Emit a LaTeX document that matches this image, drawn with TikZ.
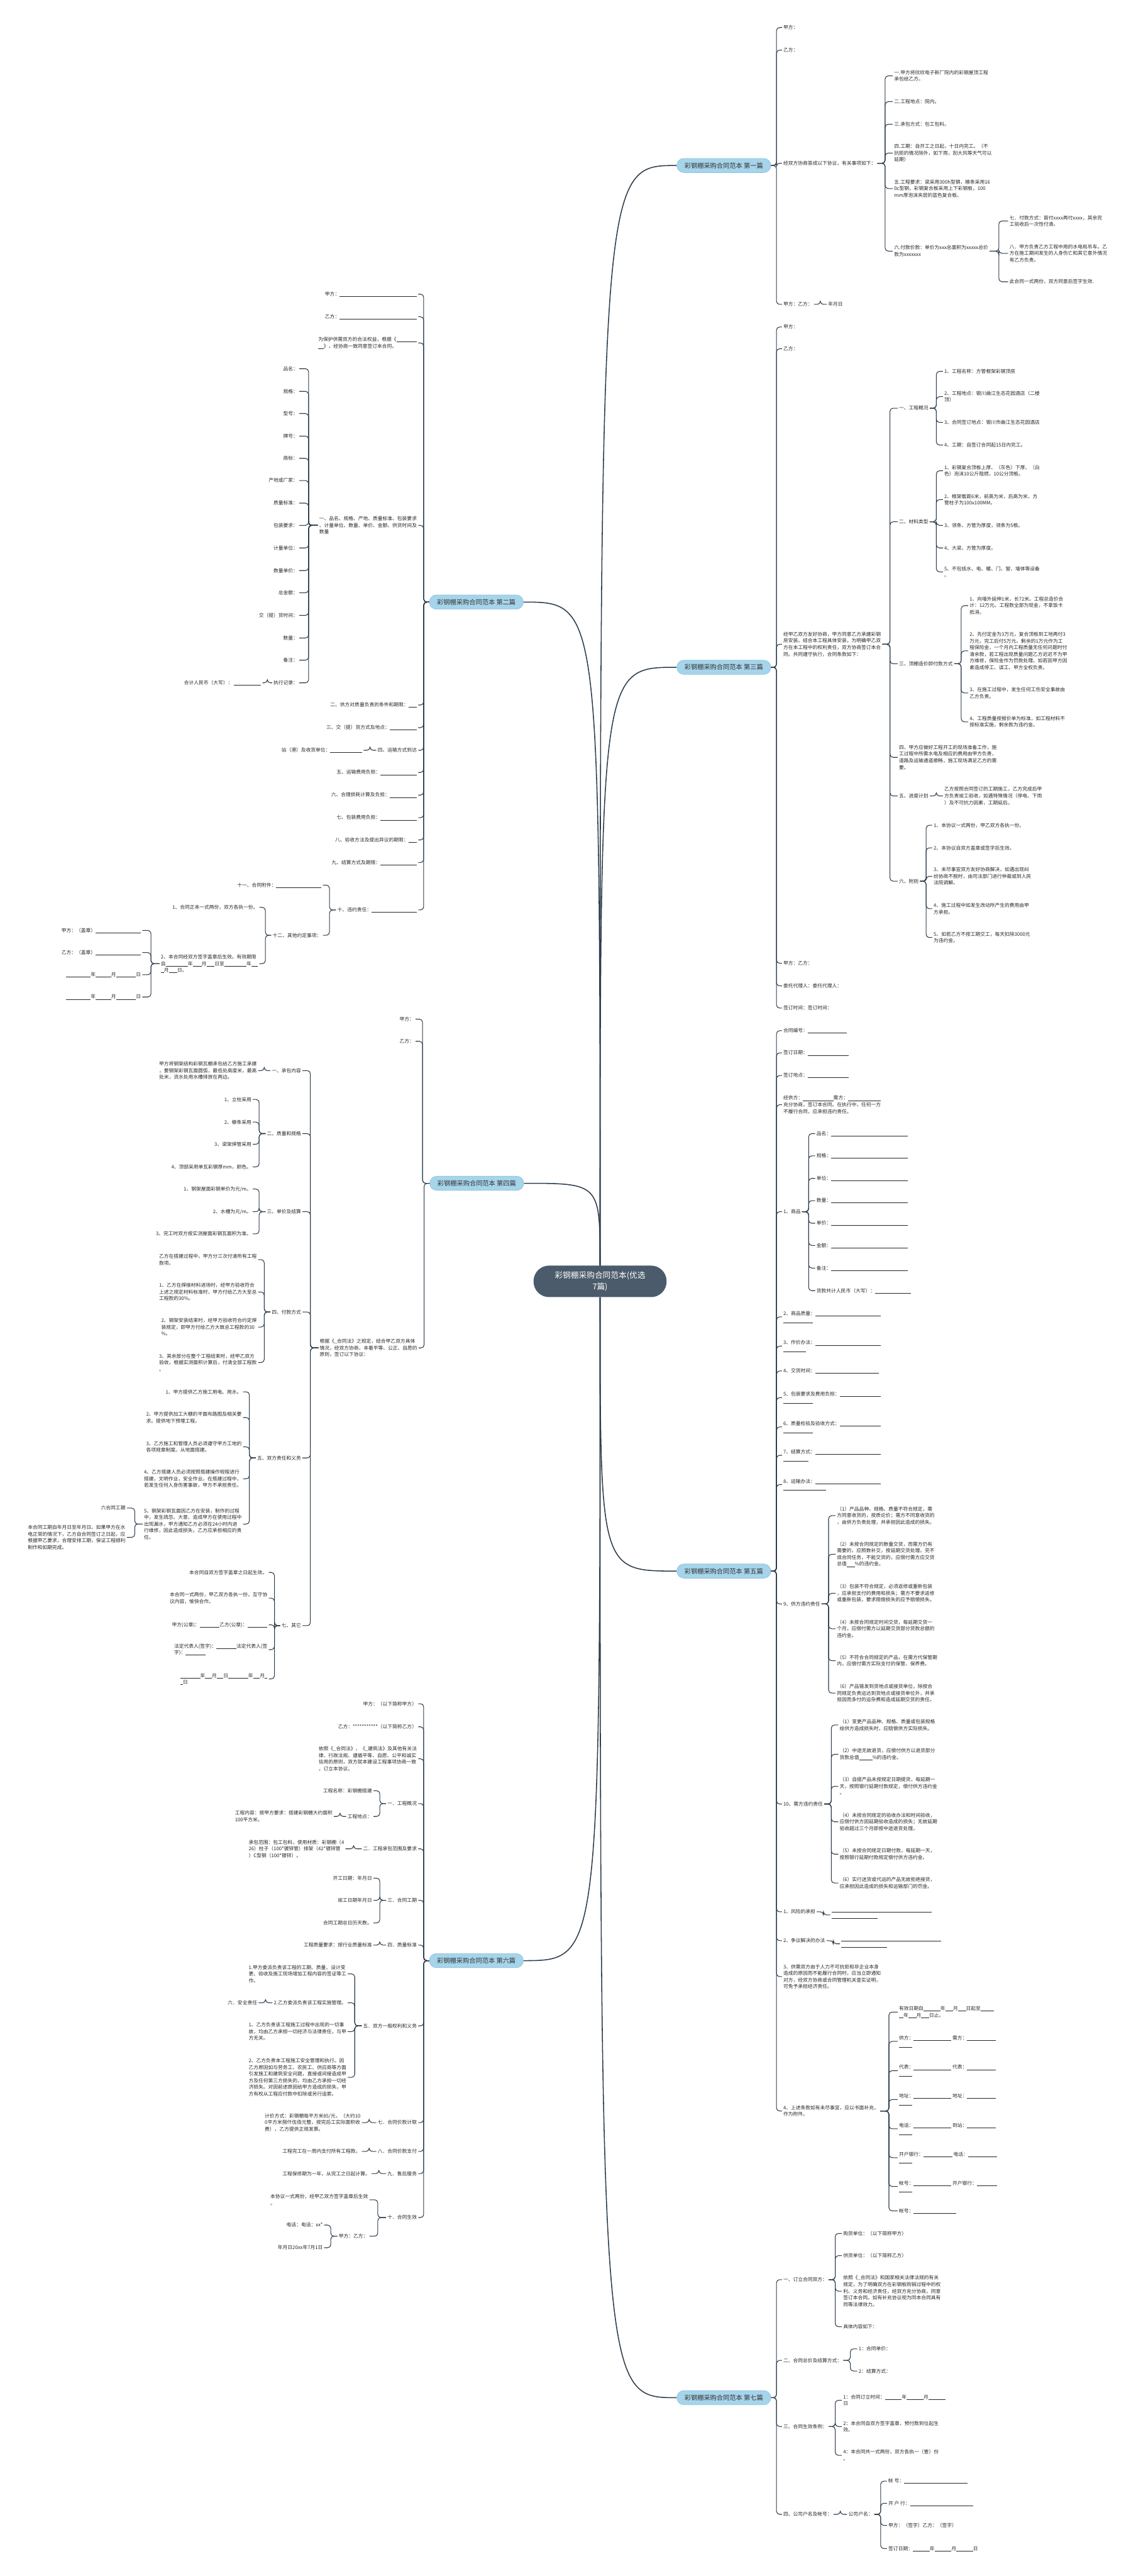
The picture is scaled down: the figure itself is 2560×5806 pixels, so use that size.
\documentclass[tikz,border=0pt]{standalone}
\usepackage{fontspec}
\setmainfont{Noto Sans CJK SC}
\usetikzlibrary{calc}
\definecolor{rootfill}{HTML}{4B5B6B}
\definecolor{topicfill}{HTML}{A6D4EA}
\definecolor{topicline}{HTML}{8CC4DE}
\definecolor{linkcol}{HTML}{2E3D4C}
\newcommand{\blankrule}[1]{\rule[-1.5pt]{#1pt}{0.6pt}}

\begin{document}
\begin{tikzpicture}[x=1pt, y=-1pt,
    root/.style={rectangle, rounded corners=35, fill=rootfill, text=white, align=center, minimum width=300, minimum height=71, inner sep=0, font=\fontsize{18}{25}\selectfont},
    topic/.style={rectangle, rounded corners=16, fill=topicfill, draw=topicline, line width=1, minimum width=212, minimum height=32, inner sep=0, text=black!80, font=\fontsize{14.5}{18}\selectfont},
    rleaf/.style={anchor=west, align=left, inner xsep=3, inner ysep=2, text=black!85, font=\fontsize{11}{15}\selectfont},
    lleaf/.style={rleaf, anchor=east},
    branch/.style={draw=linkcol, line width=1.5, rounded corners=7, to path={-- ($(\tikztostart)!0.5!(\tikztotarget |- \tikztostart)$) |- (\tikztotarget)}},
    trunk/.style={draw=linkcol, line width=2.2, to path={.. controls (\tikztostart |- \tikztotarget) .. (\tikztotarget)}},
]
\useasboundingbox (0,0) rectangle (2560,5806);
\fill[white] (0,0) rectangle (2560,5806);

% Root and topics
\node[root] (root) at (1353,2888) {彩钢棚采购合同范本(优选\\7篇)};
\node[topic] (b1) at (1632,373) {彩钢棚采购合同范本 第一篇};
\node[topic] (b2) at (1074,1357) {彩钢棚采购合同范本 第二篇};
\node[topic] (b3) at (1632,1504) {彩钢棚采购合同范本 第三篇};
\node[topic] (b4) at (1075,2667) {彩钢棚采购合同范本 第四篇};
\node[topic] (b5) at (1632,3541) {彩钢棚采购合同范本 第五篇};
\node[topic] (b6) at (1074,4419) {彩钢棚采购合同范本 第六篇};
\node[topic] (b7) at (1632,5404) {彩钢棚采购合同范本 第七篇};

% First
\node[rleaf] (n1a) at (1763,62) {甲方：};
\node[rleaf] (n1b) at (1763,113) {乙方：};
\node[rleaf] (n1c) at (1763,368) {经双方协商答成以下协议，有关事项如下：};
\node[rleaf] (n1d) at (1763,686) {甲方：乙方：};
\node[rleaf] (n1d1) at (1864,686) {年月日};
\node[rleaf] (n1c1) at (2013,171) {一.甲方将欣欣电子新厂院内的彩钢屋顶工程\\承包给乙方。};
\node[rleaf] (n1c2) at (2013,229) {二.工程地点：院内。};
\node[rleaf] (n1c3) at (2013,280) {三.承包方式：包工包料。};
\node[rleaf] (n1c4) at (2013,345) {四.工期：自开工之日起，十日内完工。（不\\抗拒的情况除外，如下雨，刮大风等天气可以\\延期）};
\node[rleaf] (n1c5) at (2013,425) {五.工程要求：梁采用300h型钢，檩条采用16\\0c型钢，彩钢复合板采用上下彩钢板，100\\mm厚泡沫夹层的蓝色复合板。};
\node[rleaf] (n1c6) at (2013,566) {六.付款价款：单价为xxx总面积为xxxxx总价\\款为xxxxxxx};
\node[rleaf] (n1c6a) at (2273,498) {七．付款方式：首付xxxx再付xxxx，其余完\\工验收后一次性付清。};
\node[rleaf] (n1c6b) at (2273,571) {八．甲方负责乙方工程中用的水电和吊车。乙\\方在施工期间发生的人身伤亡和其它意外情况\\有乙方负责。};
\node[rleaf] (n1c6c) at (2273,635) {此合同一式两份，双方同意后签字生效.};

% Second
\node[lleaf] (n2a) at (943,663) {甲方：\blankrule{174}};
\node[lleaf] (n2b) at (943,714) {乙方：\blankrule{174}};
\node[lleaf] (n2c) at (943,773) {为保护供需双方的合法权益，根据《\blankrule{46}\\\blankrule{12}》，经协商一致同意签订本合同。};
\node[lleaf] (n2d) at (943,1184) {一、品名、规格、产地、质量标准、包装要求\\、计量单位、数量、单价、金额、供货时间及\\数量};
\node[lleaf] (n2d1) at (675,831) {品名：};
\node[lleaf] (n2d2) at (675,882) {规格：};
\node[lleaf] (n2d3) at (675,932) {型号：};
\node[lleaf] (n2d4) at (675,983) {牌号：};
\node[lleaf] (n2d5) at (675,1033) {商标：};
\node[lleaf] (n2d6) at (675,1083) {产地或厂家：};
\node[lleaf] (n2d7) at (675,1134) {质量标准：};
\node[lleaf] (n2d8) at (675,1184) {包装要求：};
\node[lleaf] (n2d9) at (675,1235) {计量单位：};
\node[lleaf] (n2d10) at (675,1286) {数量单价：};
\node[lleaf] (n2d11) at (675,1336) {总金额：};
\node[lleaf] (n2d12) at (675,1387) {交（提）货时间：};
\node[lleaf] (n2d13) at (675,1438) {数量：};
\node[lleaf] (n2d14) at (675,1488) {备注：};
\node[lleaf] (n2d15) at (675,1539) {执行记录：};
\node[lleaf] (n2d15a) at (592,1539) {合计人民币（大写）：\,\blankrule{62}};
\node[lleaf] (n2e) at (943,1589) {二、供方对质量负责的条件和期限：\blankrule{19}};
\node[lleaf] (n2f) at (943,1640) {三、交（提）货方式及地点：\blankrule{61}};
\node[lleaf] (n2g) at (943,1691) {四、运输方式到达};
\node[lleaf] (n2g1) at (820,1691) {站（港）及收货单位：\blankrule{72}};
\node[lleaf] (n2h) at (943,1741) {五、运输费用负担：\blankrule{82}};
\node[lleaf] (n2i) at (943,1792) {六、合理损耗计算及负担：\blankrule{61}};
\node[lleaf] (n2j) at (943,1843) {七、包装费用负担：\blankrule{82}};
\node[lleaf] (n2k) at (943,1893) {八、验收方法及提出异议的期限：\blankrule{19}};
\node[lleaf] (n2l) at (943,1944) {九、结算方式及期限：\blankrule{82}};
\node[lleaf] (n2m) at (943,2051) {十、违约责任：\blankrule{102}};
\node[lleaf] (n2m1) at (728,1995) {十一、合同附件：\blankrule{102}};
\node[lleaf] (n2m2) at (728,2108) {十二、其他约定事项：};
\node[lleaf] (n2m2a) at (585,2045) {1、合同正本一式两份，双方各执一份。};
\node[lleaf] (n2m2b) at (585,2172) {2、本合同经双方签字盖章后生效。有效期限\\自\blankrule{50}年\blankrule{20}月\blankrule{18}日至\blankrule{50}年\blankrule{15}\\\blankrule{7}月\blankrule{19}日。};
\node[lleaf] (n2m2b1) at (321,2097) {甲方：（盖章）\blankrule{102}};
\node[lleaf] (n2m2b2) at (321,2147) {乙方：（盖章）\blankrule{102}};
\node[lleaf] (n2m2b3) at (321,2197) {\blankrule{56}年\blankrule{35}月\blankrule{45}日};
\node[lleaf] (n2m2b4) at (321,2247) {\blankrule{56}年\blankrule{35}月\blankrule{45}日};

% Third
\node[rleaf] (n3a) at (1763,737) {甲方：};
\node[rleaf] (n3b) at (1763,786) {乙方：};
\node[rleaf] (n3c) at (1763,1452) {经甲乙双方友好协商，甲方同意乙方承建彩钢\\房安装。结合本工程具体安装，为明确甲乙双\\方在本工程中的权利责任，双方协商签订本合\\同。共同遵守执行，合同条款如下：};
\node[rleaf] (n3d) at (1763,2171) {甲方：乙方：};
\node[rleaf] (n3e) at (1763,2222) {委托代理人：委托代理人：};
\node[rleaf] (n3f) at (1763,2272) {签订时间：签订时间：};
\node[rleaf] (n3c1) at (2024,920) {一、工程概况};
\node[rleaf] (n3c1a) at (2126,837) {1、工程名称：方管框架彩钢顶房};
\node[rleaf] (n3c1b) at (2126,894) {2、工程地点：银川曲江生态花园酒店（二楼\\顶）};
\node[rleaf] (n3c1c) at (2126,952) {3、合同签订地点：银川市曲江生态花园酒店};
\node[rleaf] (n3c1d) at (2126,1003) {4、工期：自签订合同起15日内完工。};
\node[rleaf] (n3c2) at (2024,1176) {二、材料类型};
\node[rleaf] (n3c2a) at (2126,1061) {1、彩钢复合顶板上厚、（灰色）下厚、（白\\色）泡沫10公斤阻燃，10公分顶板。};
\node[rleaf] (n3c2b) at (2126,1126) {2、框架载距6米，前高为米，后高为米、方\\管柱子为100x100MM。};
\node[rleaf] (n3c2c) at (2126,1184) {3、领条、方管为厚度，领条为5根。};
\node[rleaf] (n3c2d) at (2126,1235) {4、大梁、方管为厚度。};
\node[rleaf] (n3c2e) at (2126,1289) {5、不包括水、电、暖、门、窗、墙体等设备\\。};
\node[rleaf] (n3c3) at (2024,1496) {三、顶棚造价即付款方式};
\node[rleaf] (n3c3a) at (2183,1365) {1、向墙外延伸1米，长72米。工程总造价合\\计：12万元。工程款全部为现金，不拿饭卡\\抵消。};
\node[rleaf] (n3c3b) at (2183,1467) {2、先付定金为3万元，复合顶板到工地再付3\\万元，完工后付5万元。剩余的1万元作为工\\程保险金，一个月内工程质量无任何问题时付\\清余款，若工程出现质量问题乙方迟迟不为甲\\方维修，保险金作为罚款处理。如若因甲方因\\素造成停工、误工、甲方全权负责。};
\node[rleaf] (n3c3c) at (2183,1562) {3、在施工过程中，发生任何工伤安全事故由\\乙方负责。};
\node[rleaf] (n3c3d) at (2183,1627) {4、工程质量按报价单为标准，如工程材料不\\按标准实施，剩余款为违约金。};
\node[rleaf] (n3c4) at (2024,1707) {四、甲方应做好工程开工的现场准备工作，施\\工过程中所需水电及相应的费用由甲方负责，\\道路及运输通道顺畅，施工现场满足乙方的需\\要。};
\node[rleaf] (n3c5) at (2024,1794) {五、进度计划};
\node[rleaf] (n3c5a) at (2126,1794) {乙方按照合同签订的工期施工，乙方完成后甲\\方负责竣工验收，如遇特殊情况（停电、下雨\\）及不可抗力因素，工期延后。};
\node[rleaf] (n3c6) at (2024,1986) {六、附则};
\node[rleaf] (n3c6a) at (2102,1860) {1、本协议一式两份，甲乙双方各执一份。};
\node[rleaf] (n3c6b) at (2102,1911) {2、本协议自双方盖章或签字后生效。};
\node[rleaf] (n3c6c) at (2102,1975) {3、未尽事宜双方友好协商解决，如遇出现纠\\纷协商不脱时，由司法部门进行仲裁或到人民\\法院调解。};
\node[rleaf] (n3c6d) at (2102,2048) {4、施工过程中如发生改动所产生的费用由甲\\方承担。};
\node[rleaf] (n3c6e) at (2102,2113) {5、如若乙方不按工期交工，每天扣除3000元\\为违约金。};

% Fourth
\node[lleaf] (n4a) at (937,2297) {甲方：};
\node[lleaf] (n4b) at (937,2347) {乙方：};
\node[lleaf] (n4c) at (944,3038) {根据《\_合同法》之规定，结合甲乙双方具体\\情况，经双方协商，本着平等、公正、自愿的\\原则，签订以下协议：};
\node[lleaf] (n4c1) at (682,2413) {一、承包内容};
\node[lleaf] (n4c1a) at (582,2413) {甲方将钢架结构彩钢瓦棚承包给乙方施工承建\\，要钢架彩钢瓦面圆弧，最低处高度米，最高\\处米，流水处用水槽排放在两边。};
\node[lleaf] (n4c2) at (682,2555) {二、质量和规格};
\node[lleaf] (n4c2a) at (570,2478) {1、立柱采用};
\node[lleaf] (n4c2b) at (570,2529) {2、檩条采用};
\node[lleaf] (n4c2c) at (570,2579) {3、梁架焊管采用};
\node[lleaf] (n4c2d) at (570,2630) {4、顶部采用单瓦彩钢厚mm，颜色。};
\node[lleaf] (n4c3) at (682,2731) {三、单价及结算};
\node[lleaf] (n4c3a) at (570,2680) {1、钢架屋面彩钢单价为元/m。};
\node[lleaf] (n4c3b) at (570,2731) {2、水槽为元/m。};
\node[lleaf] (n4c3c) at (570,2781) {3、完工时双方按实测屋面彩钢瓦面积为准。};
\node[lleaf] (n4c4) at (682,2957) {四、付款方式};
\node[lleaf] (n4c4a) at (582,2839) {乙方在搭建过程中，甲方分三次付清所有工程\\款项。};
\node[lleaf] (n4c4b) at (582,2912) {1、乙方在焊接材料进场时，经甲方验收符合\\上述之规定材料标准时，甲方付给乙方大至总\\工程款的30\%。};
\node[lleaf] (n4c4c) at (582,2991) {2、钢架安装结束时，经甲方验收符合约定焊\\装规定，即甲方付给乙方大致总工程款的30\\\%。};
\node[lleaf] (n4c4d) at (582,3071) {3、其余部分在整个工程结束时，经甲乙双方\\验收，根据实测面积计算后，付清全部工程款\\。};
\node[lleaf] (n4c5) at (682,3286) {五、双方责任和义务};
\node[lleaf] (n4c5a) at (548,3137) {1、甲方提供乙方施工用电、用水。};
\node[lleaf] (n4c5b) at (548,3195) {2、甲方提供加工大棚的平面布路图及相关要\\求。提供地下预埋工程。};
\node[lleaf] (n4c5c) at (548,3261) {3、乙方施工和管理人员必须遵守甲方工地的\\各项规章制度。从地面搭建。};
\node[lleaf] (n4c5d) at (548,3333) {4、乙方搭建人员必须按照搭建操作规程进行\\搭建，文明作业，安全作业。在搭建过程中，\\若发生任何人身伤害事故，甲方不承担责任。};
\node[lleaf] (n4c5e) at (548,3435) {5、钢架彩钢瓦面因乙方在安装，制作的过程\\中，发生疏忽、大意、造成甲方在使用过程中\\出现漏水，甲方通知乙方必须在24小时内进\\行维修，因此造成损失，乙方应承担相应的责\\任。};
\node[lleaf] (n4c5e1) at (286,3399) {六合同工期};
\node[lleaf] (n4c5e2) at (286,3465) {本合同工期自年月日至年月日。如果甲方在水\\电正常的情况下，乙方自合同签订之日起，应\\根据甲乙要求，合理安排工期，保证工程顺利\\制作和如期完成。};
\node[lleaf] (n4c6) at (682,3664) {七、其它};
\node[lleaf] (n4c6a) at (606,3544) {本合同自双方签字盖章之日起生效。};
\node[lleaf] (n4c6b) at (606,3602) {本合同一式两份，甲乙双方各执一份，互守协\\议内容，愉快合作。};
\node[lleaf] (n4c6c) at (606,3662) {甲方(公章)：\blankrule{45}乙方(公章)：\blankrule{45}};
\node[lleaf] (n4c6d) at (606,3718) {法定代表人(签字)：\blankrule{45}法定代表人(签\\字)：\blankrule{45}};
\node[lleaf] (n4c6e) at (606,3784) {\blankrule{45}年\blankrule{15}月\blankrule{15}日\blankrule{45}年\blankrule{15}月\blankrule{6}\\\blankrule{6}日};

% Fifth
\node[rleaf] (n5a) at (1763,2323) {合同编号：\blankrule{88}};
\node[rleaf] (n5b) at (1763,2373) {签订日期：\blankrule{92}};
\node[rleaf] (n5c) at (1763,2424) {签订地点：\blankrule{92}};
\node[rleaf] (n5d) at (1763,2490) {经供方：\blankrule{69}需方：\blankrule{73}\\充分协商，签订本合同。在执行中，任何一方\\不履行合同，应承担违约责任。};
\node[rleaf] (n5e) at (1763,2731) {1、商品};
\node[rleaf] (n5e1) at (1838,2555) {品名：\blankrule{173}};
\node[rleaf] (n5e2) at (1838,2605) {规格：\blankrule{173}};
\node[rleaf] (n5e3) at (1838,2656) {单位：\blankrule{173}};
\node[rleaf] (n5e4) at (1838,2706) {数量：\blankrule{173}};
\node[rleaf] (n5e5) at (1838,2757) {单价：\blankrule{173}};
\node[rleaf] (n5e6) at (1838,2807) {金额：\blankrule{173}};
\node[rleaf] (n5e7) at (1838,2858) {备注：\blankrule{173}};
\node[rleaf] (n5e8) at (1838,2909) {货款共计人民币（大写）：\blankrule{80}};
\node[rleaf] (n5f) at (1763,2968) {2、商品质量：\blankrule{148}\\\blankrule{66}};
\node[rleaf] (n5g) at (1763,3034) {3、作价办法：\blankrule{148}\\\blankrule{51}};
\node[rleaf] (n5h) at (1763,3090) {4、交货时间：\blankrule{143}};
\node[rleaf] (n5i) at (1763,3150) {5、包装要求及费用负担：\blankrule{92}\\\blankrule{66}};
\node[rleaf] (n5j) at (1763,3216) {6、质量检验及验收方式：\blankrule{92}\\\blankrule{66}};
\node[rleaf] (n5k) at (1763,3280) {7、结算方式：\blankrule{148}\\\blankrule{56}};
\node[rleaf] (n5l) at (1763,3346) {8、运输办法：\blankrule{148}\\\blankrule{97}};
\node[rleaf] (n5m) at (1763,3615) {9、供方违约责任};
\node[rleaf] (n5m1) at (1884,3416) {（1）产品品种、规格、质量不符合规定，需\\方同意收货的，按质论价；需方不同意收货的\\，由供方负责处理，并承担因此造成的损失。};
\node[rleaf] (n5m2) at (1884,3503) {（2）未按合同规定的数量交货，而需方仍有\\需要的，应照数补交，按延期交货处理。完不\\成合同任务，不能交货的，应偿付需方应交货\\总值\blankrule{18}\%的违约金。};
\node[rleaf] (n5m3) at (1884,3591) {（3）包装不符合规定，必须返修或重新包装\\，应承担支付的费用和损失；需方不要求返修\\或重新包装，要求赔偿损失的应予赔偿损失。};
\node[rleaf] (n5m4) at (1884,3671) {（4）未按合同规定时间交货，每延期交货一\\个月，应偿付需方以延期交货部分货款总额的\\违约金。};
\node[rleaf] (n5m5) at (1884,3743) {（5）不符合合同规定的产品，在需方代保管期\\内，应偿付需方实际支付的保管、保养费。};
\node[rleaf] (n5m6) at (1884,3816) {（6）产品错发到货地点或接货单位，除按合\\同规定负责运达到货地点或接货单位外，并承\\担因而多付的运杂费和造成延期交货的责任。};
\node[rleaf] (n5n) at (1763,4066) {10、需方违约责任};
\node[rleaf] (n5n1) at (1890,3888) {（1）变更产品品种、规格、质量或包装规格\\给供方造成损失时，应赔偿供方实际损失。};
\node[rleaf] (n5n2) at (1890,3954) {（2）中途无故退货，应偿付供方以退货部分\\货款总值\blankrule{30}\%的违约金。};
\node[rleaf] (n5n3) at (1890,4026) {（3）自提产品未按规定日期提货，每延期一\\天，按照银行延期付款规定，偿付供方违约金\\。};
\node[rleaf] (n5n4) at (1890,4106) {（4）未按合同规定的验收办法和时间验收，\\应偿付供方因延期验收造成的损失；无故延期\\验收超过三个月即按中途退货处理。};
\node[rleaf] (n5n5) at (1890,4179) {（5）未按合同规定日期付款，每延期一天，\\按照银行延期付款规定偿付供方违约金。};
\node[rleaf] (n5n6) at (1890,4244) {（6）实行送货或代运的产品无故拒绝接货，\\应承担因此造成的损失和运输部门的罚金。};
\node[rleaf] (n5o) at (1763,4309) {1、风险的承担};
\node[rleaf] (n5o1) at (1872,4316) {\blankrule{226}\\\blankrule{103}};
\node[rleaf] (n5p) at (1763,4374) {2、争议解决的办法};
\node[rleaf] (n5p1) at (1894,4381) {\blankrule{225}\\\blankrule{103}};
\node[rleaf] (n5q) at (1763,4455) {3、供需双方由于人力不可抗拒和非企业本身\\造成的原因而不能履行合同时，应当立即通知\\对方，经双方协商或合同管理机关查实证明，\\可免予承担经济责任。};
\node[rleaf] (n5r) at (1763,4758) {4、上述条款如有未尽事宜，应以书面补充，\\作为附件。};
\node[rleaf] (n5r1) at (2024,4535) {有效日期自\blankrule{38}年\blankrule{18}月\blankrule{18}日起至\blankrule{30}\\\blankrule{10}年\blankrule{18}月\blankrule{18}日止。};
\node[rleaf] (n5r2) at (2024,4601) {供方：\blankrule{85}\ 需方：\blankrule{65}\\\blankrule{30}};
\node[rleaf] (n5r3) at (2024,4667) {代表：\blankrule{85}\ 代表：\blankrule{65}\\\blankrule{30}};
\node[rleaf] (n5r4) at (2024,4732) {地址：\blankrule{85}\ 地址：\blankrule{65}\\\blankrule{30}};
\node[rleaf] (n5r5) at (2024,4798) {电话：\blankrule{85}\ 到站：\blankrule{65}\\\blankrule{30}};
\node[rleaf] (n5r6) at (2024,4863) {开户银行：\blankrule{65}\ 电话：\blankrule{65}\\\blankrule{30}};
\node[rleaf] (n5r7) at (2024,4928) {帐号：\blankrule{85}\ 开户银行：\blankrule{45}\\\blankrule{30}};
\node[rleaf] (n5r8) at (2024,4983) {帐号：\blankrule{96}};

% Sixth
\node[lleaf] (n6a) at (943,3840) {甲方：（以下简称甲方）};
\node[lleaf] (n6b) at (943,3892) {乙方：***********（以下简称乙方）};
\node[lleaf] (n6c) at (943,3964) {依照《\_合同法》、《\_建筑法》及其他有关法\\律、行政法规、遵循平等、自愿、公平和诚实\\信用的原则，双方就本建设工程事项协商一致\\，订立本协议。};
\node[lleaf] (n6d) at (943,4065) {一．工程概况};
\node[lleaf] (n6d1) at (842,4036) {工程名称：彩钢棚搭建};
\node[lleaf] (n6d2) at (842,4094) {工程地点：};
\node[lleaf] (n6d2a) at (753,4094) {工程内容：按甲方要求：搭建彩钢棚大约面积\\100平方米。};
\node[lleaf] (n6e) at (943,4167) {二．工程承包范围及要求};
\node[lleaf] (n6e1) at (779,4167) {承包范围：包工包料，使用材质：彩钢棚（4\\26）柱子（100*镀锌管）排架（42*镀锌管\\）C型钢（100*镀锌）。};
\node[lleaf] (n6f) at (943,4283) {三．合同工期};
\node[lleaf] (n6f1) at (842,4233) {开工日期：年月日};
\node[lleaf] (n6f2) at (842,4283) {竣工日期年月日};
\node[lleaf] (n6f3) at (842,4334) {合同工期总日历天数。};
\node[lleaf] (n6g) at (943,4384) {四．质量标准};
\node[lleaf] (n6g1) at (842,4384) {工程质量要求：按行业质量标准};
\node[lleaf] (n6h) at (943,4566) {五．双方一般权利和义务};
\node[lleaf] (n6h1) at (784,4449) {1.甲方委派负责该工程的工期、质量、设计变\\更、验收及施工现场增加工程内容的签证等工\\作。};
\node[lleaf] (n6h2) at (784,4514) {2.乙方委派负责该工程实施管理。};
\node[lleaf] (n6h2a) at (583,4514) {六．安全责任};
\node[lleaf] (n6h3) at (784,4579) {1、乙方负责该工程施工过程中出现的一切事\\故，均由乙方承担一切经济与法律责任，与甲\\方无关。};
\node[lleaf] (n6h4) at (784,4682) {2、乙方负责本工程施工安全管理和执行。因\\乙方原因如与劳务工、农民工、供应商等方面\\引发施工和建筑安全问题，直接或间接造成甲\\方及任何第三方损失的，均由乙方承担一切经\\济损失。对因前述原因给甲方造成的损失，甲\\方有权从工程应付款中扣除或另行追索。};
\node[lleaf] (n6i) at (943,4784) {七．合同价款计取};
\node[lleaf] (n6i1) at (816,4784) {计价方式：彩钢棚每平方米85/元，（大约10\\0平方米捌仟伍佰元整，按完后工实际面积收\\费），乙方提供正规发票。};
\node[lleaf] (n6j) at (943,4849) {八．合同价款支付};
\node[lleaf] (n6j1) at (816,4849) {工程完工在一周内支付所有工程款。};
\node[lleaf] (n6k) at (943,4899) {九．售后服务};
\node[lleaf] (n6k1) at (838,4899) {工程保修期为一年，从完工之日起计算。};
\node[lleaf] (n6l) at (943,4998) {十．合同生效};
\node[lleaf] (n6l1) at (833,4958) {本协议一式两份，经甲乙双方签字盖章后生效\\。};
\node[lleaf] (n6l2) at (833,5040) {甲方：乙方：};
\node[lleaf] (n6l2a) at (731,5015) {电话：电话：xx*};
\node[lleaf] (n6l2b) at (731,5066) {年月日20xx年7月1日};

% Seventh
\node[rleaf] (n7a) at (1763,5138) {一、订立合同双方：};
\node[rleaf] (n7a1) at (1898,5034) {购货单位：（以下简称甲方）};
\node[rleaf] (n7a2) at (1898,5084) {供货单位：（以下简称乙方）};
\node[rleaf] (n7a3) at (1898,5164) {依照《\_合同法》和国家相关法律法规的有关\\规定，为了明确双方在彩钢板购销过程中的权\\利、义务和经济责任，经双方充分协商，同意\\签订本合同。如有补充协议视为同本合同具有\\同等法律效力。};
\node[rleaf] (n7a4) at (1898,5244) {具体内容如下：};
\node[rleaf] (n7b) at (1763,5320) {二、合同总价及结算方式：};
\node[rleaf] (n7b1) at (1933,5294) {1：合同单价：};
\node[rleaf] (n7b2) at (1933,5344) {2：结算方式：};
\node[rleaf] (n7c) at (1763,5469) {三、合同生效条例：};
\node[rleaf] (n7c1) at (1898,5410) {1：合同订立时间：\blankrule{38}年\blankrule{38}月\blankrule{38}\\日};
\node[rleaf] (n7c2) at (1898,5469) {2：本合同自双方签字盖章，预付款到位起生\\效。};
\node[rleaf] (n7c3) at (1898,5534) {4：本合同共一式两份，双方各执一（壹）份\\。};
\node[rleaf] (n7d) at (1763,5667) {四、公司户名及帐号：};
\node[rleaf] (n7d1) at (1910,5667) {公司户名：};
\node[rleaf] (n7d1a) at (2000,5592) {帐 号：\blankrule{143}};
\node[rleaf] (n7d1b) at (2000,5642) {开 户 行：\blankrule{142}};
\node[rleaf] (n7d1c) at (2000,5692) {甲方：（签字）乙方：（签字）};
\node[rleaf] (n7d1d) at (2000,5744) {签订日期：\blankrule{38}年\blankrule{38}月\blankrule{38}日};

% Trunk lines
\draw[trunk] (root.north) to (b1.west);
\draw[trunk] (root.north) to (b2.east);
\draw[trunk] (root.north) to (b3.west);
\draw[trunk] (root.north) to (b4.east);
\draw[trunk] (root.south) to (b5.west);
\draw[trunk] (root.south) to (b6.east);
\draw[trunk] (root.south) to (b7.west);

% First links
\draw[branch] (b1.east) to (n1a.west);
\draw[branch] (b1.east) to (n1b.west);
\draw[branch] (b1.east) to (n1c.west);
\draw[branch] (b1.east) to (n1d.west);
\draw[branch] (n1d.east) to (n1d1.west);
\draw[branch] (n1c.east) to (n1c1.west);
\draw[branch] (n1c.east) to (n1c2.west);
\draw[branch] (n1c.east) to (n1c3.west);
\draw[branch] (n1c.east) to (n1c4.west);
\draw[branch] (n1c.east) to (n1c5.west);
\draw[branch] (n1c.east) to (n1c6.west);
\draw[branch] (n1c6.east) to (n1c6a.west);
\draw[branch] (n1c6.east) to (n1c6b.west);
\draw[branch] (n1c6.east) to (n1c6c.west);

% Second links
\draw[branch] (b2.west) to (n2a.east);
\draw[branch] (b2.west) to (n2b.east);
\draw[branch] (b2.west) to (n2c.east);
\draw[branch] (b2.west) to (n2d.east);
\draw[branch] (b2.west) to (n2e.east);
\draw[branch] (b2.west) to (n2f.east);
\draw[branch] (b2.west) to (n2g.east);
\draw[branch] (b2.west) to (n2h.east);
\draw[branch] (b2.west) to (n2i.east);
\draw[branch] (b2.west) to (n2j.east);
\draw[branch] (b2.west) to (n2k.east);
\draw[branch] (b2.west) to (n2l.east);
\draw[branch] (b2.west) to (n2m.east);
\draw[branch] (n2d.west) to (n2d1.east);
\draw[branch] (n2d.west) to (n2d2.east);
\draw[branch] (n2d.west) to (n2d3.east);
\draw[branch] (n2d.west) to (n2d4.east);
\draw[branch] (n2d.west) to (n2d5.east);
\draw[branch] (n2d.west) to (n2d6.east);
\draw[branch] (n2d.west) to (n2d7.east);
\draw[branch] (n2d.west) to (n2d8.east);
\draw[branch] (n2d.west) to (n2d9.east);
\draw[branch] (n2d.west) to (n2d10.east);
\draw[branch] (n2d.west) to (n2d11.east);
\draw[branch] (n2d.west) to (n2d12.east);
\draw[branch] (n2d.west) to (n2d13.east);
\draw[branch] (n2d.west) to (n2d14.east);
\draw[branch] (n2d.west) to (n2d15.east);
\draw[branch] (n2d15.west) to (n2d15a.east);
\draw[branch] (n2g.west) to (n2g1.east);
\draw[branch] (n2m.west) to (n2m1.east);
\draw[branch] (n2m.west) to (n2m2.east);
\draw[branch] (n2m2.west) to (n2m2a.east);
\draw[branch] (n2m2.west) to (n2m2b.east);
\draw[branch] (n2m2b.west) to (n2m2b1.east);
\draw[branch] (n2m2b.west) to (n2m2b2.east);
\draw[branch] (n2m2b.west) to (n2m2b3.east);
\draw[branch] (n2m2b.west) to (n2m2b4.east);

% Third links
\draw[branch] (b3.east) to (n3a.west);
\draw[branch] (b3.east) to (n3b.west);
\draw[branch] (b3.east) to (n3c.west);
\draw[branch] (b3.east) to (n3d.west);
\draw[branch] (b3.east) to (n3e.west);
\draw[branch] (b3.east) to (n3f.west);
\draw[branch] (n3c.east) to (n3c1.west);
\draw[branch] (n3c.east) to (n3c2.west);
\draw[branch] (n3c.east) to (n3c3.west);
\draw[branch] (n3c.east) to (n3c4.west);
\draw[branch] (n3c.east) to (n3c5.west);
\draw[branch] (n3c.east) to (n3c6.west);
\draw[branch] (n3c1.east) to (n3c1a.west);
\draw[branch] (n3c1.east) to (n3c1b.west);
\draw[branch] (n3c1.east) to (n3c1c.west);
\draw[branch] (n3c1.east) to (n3c1d.west);
\draw[branch] (n3c2.east) to (n3c2a.west);
\draw[branch] (n3c2.east) to (n3c2b.west);
\draw[branch] (n3c2.east) to (n3c2c.west);
\draw[branch] (n3c2.east) to (n3c2d.west);
\draw[branch] (n3c2.east) to (n3c2e.west);
\draw[branch] (n3c3.east) to (n3c3a.west);
\draw[branch] (n3c3.east) to (n3c3b.west);
\draw[branch] (n3c3.east) to (n3c3c.west);
\draw[branch] (n3c3.east) to (n3c3d.west);
\draw[branch] (n3c5.east) to (n3c5a.west);
\draw[branch] (n3c6.east) to (n3c6a.west);
\draw[branch] (n3c6.east) to (n3c6b.west);
\draw[branch] (n3c6.east) to (n3c6c.west);
\draw[branch] (n3c6.east) to (n3c6d.west);
\draw[branch] (n3c6.east) to (n3c6e.west);

% Fourth links
\draw[branch] (b4.west) to (n4a.east);
\draw[branch] (b4.west) to (n4b.east);
\draw[branch] (b4.west) to (n4c.east);
\draw[branch] (n4c.west) to (n4c1.east);
\draw[branch] (n4c.west) to (n4c2.east);
\draw[branch] (n4c.west) to (n4c3.east);
\draw[branch] (n4c.west) to (n4c4.east);
\draw[branch] (n4c.west) to (n4c5.east);
\draw[branch] (n4c.west) to (n4c6.east);
\draw[branch] (n4c1.west) to (n4c1a.east);
\draw[branch] (n4c2.west) to (n4c2a.east);
\draw[branch] (n4c2.west) to (n4c2b.east);
\draw[branch] (n4c2.west) to (n4c2c.east);
\draw[branch] (n4c2.west) to (n4c2d.east);
\draw[branch] (n4c3.west) to (n4c3a.east);
\draw[branch] (n4c3.west) to (n4c3b.east);
\draw[branch] (n4c3.west) to (n4c3c.east);
\draw[branch] (n4c4.west) to (n4c4a.east);
\draw[branch] (n4c4.west) to (n4c4b.east);
\draw[branch] (n4c4.west) to (n4c4c.east);
\draw[branch] (n4c4.west) to (n4c4d.east);
\draw[branch] (n4c5.west) to (n4c5a.east);
\draw[branch] (n4c5.west) to (n4c5b.east);
\draw[branch] (n4c5.west) to (n4c5c.east);
\draw[branch] (n4c5.west) to (n4c5d.east);
\draw[branch] (n4c5.west) to (n4c5e.east);
\draw[branch] (n4c5e.west) to (n4c5e1.east);
\draw[branch] (n4c5e.west) to (n4c5e2.east);
\draw[branch] (n4c6.west) to (n4c6a.east);
\draw[branch] (n4c6.west) to (n4c6b.east);
\draw[branch] (n4c6.west) to (n4c6c.east);
\draw[branch] (n4c6.west) to (n4c6d.east);
\draw[branch] (n4c6.west) to (n4c6e.east);

% Fifth links
\draw[branch] (b5.east) to (n5a.west);
\draw[branch] (b5.east) to (n5b.west);
\draw[branch] (b5.east) to (n5c.west);
\draw[branch] (b5.east) to (n5d.west);
\draw[branch] (b5.east) to (n5e.west);
\draw[branch] (b5.east) to (n5f.west);
\draw[branch] (b5.east) to (n5g.west);
\draw[branch] (b5.east) to (n5h.west);
\draw[branch] (b5.east) to (n5i.west);
\draw[branch] (b5.east) to (n5j.west);
\draw[branch] (b5.east) to (n5k.west);
\draw[branch] (b5.east) to (n5l.west);
\draw[branch] (b5.east) to (n5m.west);
\draw[branch] (b5.east) to (n5n.west);
\draw[branch] (b5.east) to (n5o.west);
\draw[branch] (b5.east) to (n5p.west);
\draw[branch] (b5.east) to (n5q.west);
\draw[branch] (b5.east) to (n5r.west);
\draw[branch] (n5e.east) to (n5e1.west);
\draw[branch] (n5e.east) to (n5e2.west);
\draw[branch] (n5e.east) to (n5e3.west);
\draw[branch] (n5e.east) to (n5e4.west);
\draw[branch] (n5e.east) to (n5e5.west);
\draw[branch] (n5e.east) to (n5e6.west);
\draw[branch] (n5e.east) to (n5e7.west);
\draw[branch] (n5e.east) to (n5e8.west);
\draw[branch] (n5m.east) to (n5m1.west);
\draw[branch] (n5m.east) to (n5m2.west);
\draw[branch] (n5m.east) to (n5m3.west);
\draw[branch] (n5m.east) to (n5m4.west);
\draw[branch] (n5m.east) to (n5m5.west);
\draw[branch] (n5m.east) to (n5m6.west);
\draw[branch] (n5n.east) to (n5n1.west);
\draw[branch] (n5n.east) to (n5n2.west);
\draw[branch] (n5n.east) to (n5n3.west);
\draw[branch] (n5n.east) to (n5n4.west);
\draw[branch] (n5n.east) to (n5n5.west);
\draw[branch] (n5n.east) to (n5n6.west);
\draw[branch] (n5o.east) to (n5o1.west);
\draw[branch] (n5p.east) to (n5p1.west);
\draw[branch] (n5r.east) to (n5r1.west);
\draw[branch] (n5r.east) to (n5r2.west);
\draw[branch] (n5r.east) to (n5r3.west);
\draw[branch] (n5r.east) to (n5r4.west);
\draw[branch] (n5r.east) to (n5r5.west);
\draw[branch] (n5r.east) to (n5r6.west);
\draw[branch] (n5r.east) to (n5r7.west);
\draw[branch] (n5r.east) to (n5r8.west);

% Sixth links
\draw[branch] (b6.west) to (n6a.east);
\draw[branch] (b6.west) to (n6b.east);
\draw[branch] (b6.west) to (n6c.east);
\draw[branch] (b6.west) to (n6d.east);
\draw[branch] (b6.west) to (n6e.east);
\draw[branch] (b6.west) to (n6f.east);
\draw[branch] (b6.west) to (n6g.east);
\draw[branch] (b6.west) to (n6h.east);
\draw[branch] (b6.west) to (n6i.east);
\draw[branch] (b6.west) to (n6j.east);
\draw[branch] (b6.west) to (n6k.east);
\draw[branch] (b6.west) to (n6l.east);
\draw[branch] (n6d.west) to (n6d1.east);
\draw[branch] (n6d.west) to (n6d2.east);
\draw[branch] (n6d2.west) to (n6d2a.east);
\draw[branch] (n6e.west) to (n6e1.east);
\draw[branch] (n6f.west) to (n6f1.east);
\draw[branch] (n6f.west) to (n6f2.east);
\draw[branch] (n6f.west) to (n6f3.east);
\draw[branch] (n6g.west) to (n6g1.east);
\draw[branch] (n6h.west) to (n6h1.east);
\draw[branch] (n6h.west) to (n6h2.east);
\draw[branch] (n6h.west) to (n6h3.east);
\draw[branch] (n6h.west) to (n6h4.east);
\draw[branch] (n6h2.west) to (n6h2a.east);
\draw[branch] (n6i.west) to (n6i1.east);
\draw[branch] (n6j.west) to (n6j1.east);
\draw[branch] (n6k.west) to (n6k1.east);
\draw[branch] (n6l.west) to (n6l1.east);
\draw[branch] (n6l.west) to (n6l2.east);
\draw[branch] (n6l2.west) to (n6l2a.east);
\draw[branch] (n6l2.west) to (n6l2b.east);

% Seventh links
\draw[branch] (b7.east) to (n7a.west);
\draw[branch] (b7.east) to (n7b.west);
\draw[branch] (b7.east) to (n7c.west);
\draw[branch] (b7.east) to (n7d.west);
\draw[branch] (n7a.east) to (n7a1.west);
\draw[branch] (n7a.east) to (n7a2.west);
\draw[branch] (n7a.east) to (n7a3.west);
\draw[branch] (n7a.east) to (n7a4.west);
\draw[branch] (n7b.east) to (n7b1.west);
\draw[branch] (n7b.east) to (n7b2.west);
\draw[branch] (n7c.east) to (n7c1.west);
\draw[branch] (n7c.east) to (n7c2.west);
\draw[branch] (n7c.east) to (n7c3.west);
\draw[branch] (n7d.east) to (n7d1.west);
\draw[branch] (n7d1.east) to (n7d1a.west);
\draw[branch] (n7d1.east) to (n7d1b.west);
\draw[branch] (n7d1.east) to (n7d1c.west);
\draw[branch] (n7d1.east) to (n7d1d.west);
\end{tikzpicture}
\end{document}
